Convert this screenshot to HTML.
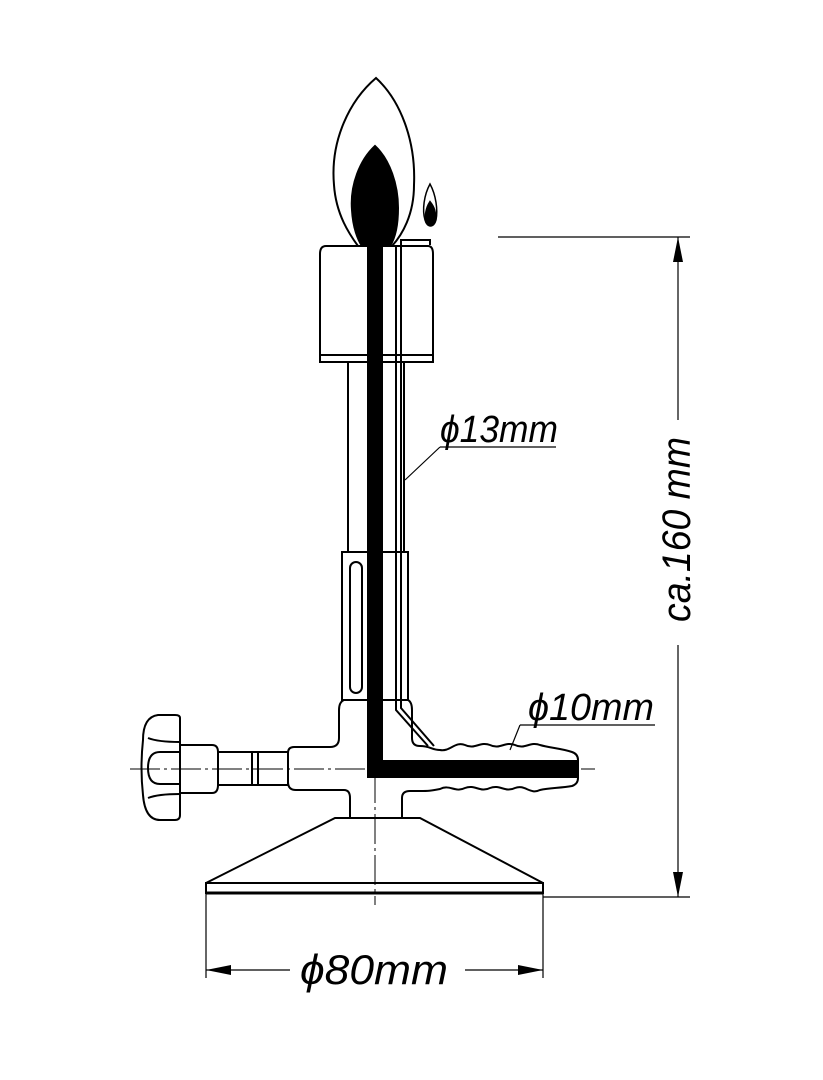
<!DOCTYPE html>
<html><head><meta charset="utf-8"><style>html,body{margin:0;padding:0;background:#fff}svg{display:block}</style></head><body>
<svg width="823" height="1080" viewBox="0 0 823 1080" xmlns="http://www.w3.org/2000/svg" fill="none" stroke="#000" stroke-width="2">
<!-- flame -->
<path d="M376 78 C350 100,330 140,334 185 C336 215,350 235,358 246 L392 246 C402 235,414 215,414 185 C416 140,400 100,376 78 Z"/>
<path d="M375 146 C360 160,350 185,352 210 C353 228,358 240,362 246 L390 246 C395 238,398 225,398 208 C398 185,390 160,375 146 Z" fill="#000"/>
<!-- pilot flame -->
<path d="M430 184 C424 195,422 210,425 220 C427 228,434 228,436 220 C438 210,436 195,430 184 Z" stroke-width="1.5"/>
<path d="M430 202 C426 208,425 216,426 221 C428 227,434 227,435 220 C436 212,434 207,430 202 Z" fill="#000"/>
<!-- cap -->
<path d="M326 246 L428 246 Q433 246,433 254 L433 362 L320 362 L320 254 Q320 246,326 246 Z"/>
<line x1="320" y1="355" x2="433" y2="355"/>
<!-- tube -->
<rect x="348" y="362" width="56" height="190"/>
<!-- sleeve -->
<rect x="342" y="552" width="66" height="148"/>
<rect x="350" y="562" width="12" height="131" rx="6"/>
<!-- body -->
<path d="M344 700 L408 700 Q412 702,412 710 L412 738 Q412 746,420 746"/>
<path d="M344 700 Q339 702,339 710 L339 738 Q339 747,330 747 L294 747 Q288 747,288 753 L288 782 Q288 790,296 790 L344 790 Q350 790,350 798 L350 818"/>
<path d="M402 818 L402 798 Q402 791,410 791 L420 791"/>
<!-- hose -->
<path d="M420 746 C430 746,432 750,440 750 C450 752,455 741,465 745 C475 750,480 741,490 745 C500 750,505 741,515 745 C525 750,530 741,540 745 C550 748,560 748,572 752 Q578 754,578 760 L578 778 Q578 784,572 786 C560 788,550 788,540 790 C530 795,525 784,515 788 C505 793,500 784,490 788 C480 793,475 784,465 788 C455 793,450 784,440 789 C430 791,428 791,420 791"/>
<!-- valve -->
<rect x="218" y="752" width="70" height="33"/>
<line x1="252" y1="752" x2="252" y2="785"/><line x1="258" y1="752" x2="258" y2="785"/>
<path d="M180 745 L212 745 Q218 745,218 752 L218 785 Q218 793,212 793 L180 793"/>
<path d="M180 718 Q180 715,175 715 L158 715 Q143 717,143 740 Q140 768,143 795 Q145 820,160 820 L175 820 Q180 820,180 815 Z"/>
<path d="M180 752 L160 752 Q148 752,148 768 Q148 784,160 784 L180 784"/>
<path d="M148 738 Q158 742,180 742 M148 798 Q158 794,180 794"/>
<!-- black L -->
<path d="M367 246 L383 246 L383 760 L578 760 L578 778 L367 778 Z" fill="#000" stroke="none"/>
<!-- pilot tube -->
<path d="M396 700 L396 246 M401 700 L401 240 L430 240 L430 245 M396 700 L396 710 L428 746 M401 700 L401 708 L434 746" stroke-width="2"/>
<!-- base -->
<path d="M335 818 L420 818 L543 883 L206 883 Z" fill="#fff"/>
<rect x="206" y="883" width="337" height="10"/>
<line x1="206" y1="893" x2="543" y2="893" stroke-width="3"/>
<!-- center lines -->
<g stroke-width="1" stroke-dasharray="30 4 3 4">
<line x1="375" y1="240" x2="375" y2="905"/>
<line x1="130" y1="769" x2="595" y2="769"/>
</g>
<!-- dimensions -->
<g stroke-width="1.2">
<line x1="498" y1="237" x2="690" y2="237"/>
<line x1="543" y1="897" x2="690" y2="897"/>
<line x1="678" y1="237" x2="678" y2="420"/>
<line x1="678" y1="645" x2="678" y2="897"/>
<line x1="206" y1="893" x2="206" y2="978"/>
<line x1="543" y1="893" x2="543" y2="978"/>
<line x1="206" y1="970" x2="290" y2="970"/>
<line x1="465" y1="970" x2="543" y2="970"/>
<line x1="440" y1="447" x2="556" y2="447"/>
<line x1="440" y1="447" x2="405" y2="480"/>
<line x1="520" y1="725" x2="655" y2="725"/>
<line x1="520" y1="725" x2="510" y2="750"/>
</g>
<g fill="#000" stroke="none">
<path d="M678 237 L673 262 L683 262 Z"/>
<path d="M678 897 L673 872 L683 872 Z"/>
<path d="M206 970 L231 965 L231 975 Z"/>
<path d="M543 970 L518 965 L518 975 Z"/>
</g>
<g fill="#000" stroke="none" font-family="Liberation Sans, sans-serif" font-style="italic">
<text x="440" y="442" font-size="38" textLength="118" lengthAdjust="spacingAndGlyphs">ϕ13mm</text>
<text x="528" y="720" font-size="38" textLength="126" lengthAdjust="spacingAndGlyphs">ϕ10mm</text>
<text x="300" y="984" font-size="42" textLength="148" lengthAdjust="spacingAndGlyphs">ϕ80mm</text>
<text transform="translate(690,622) rotate(-90)" font-size="40" textLength="185" lengthAdjust="spacingAndGlyphs">ca.160 mm</text>
</g>
</svg>
</body></html>
